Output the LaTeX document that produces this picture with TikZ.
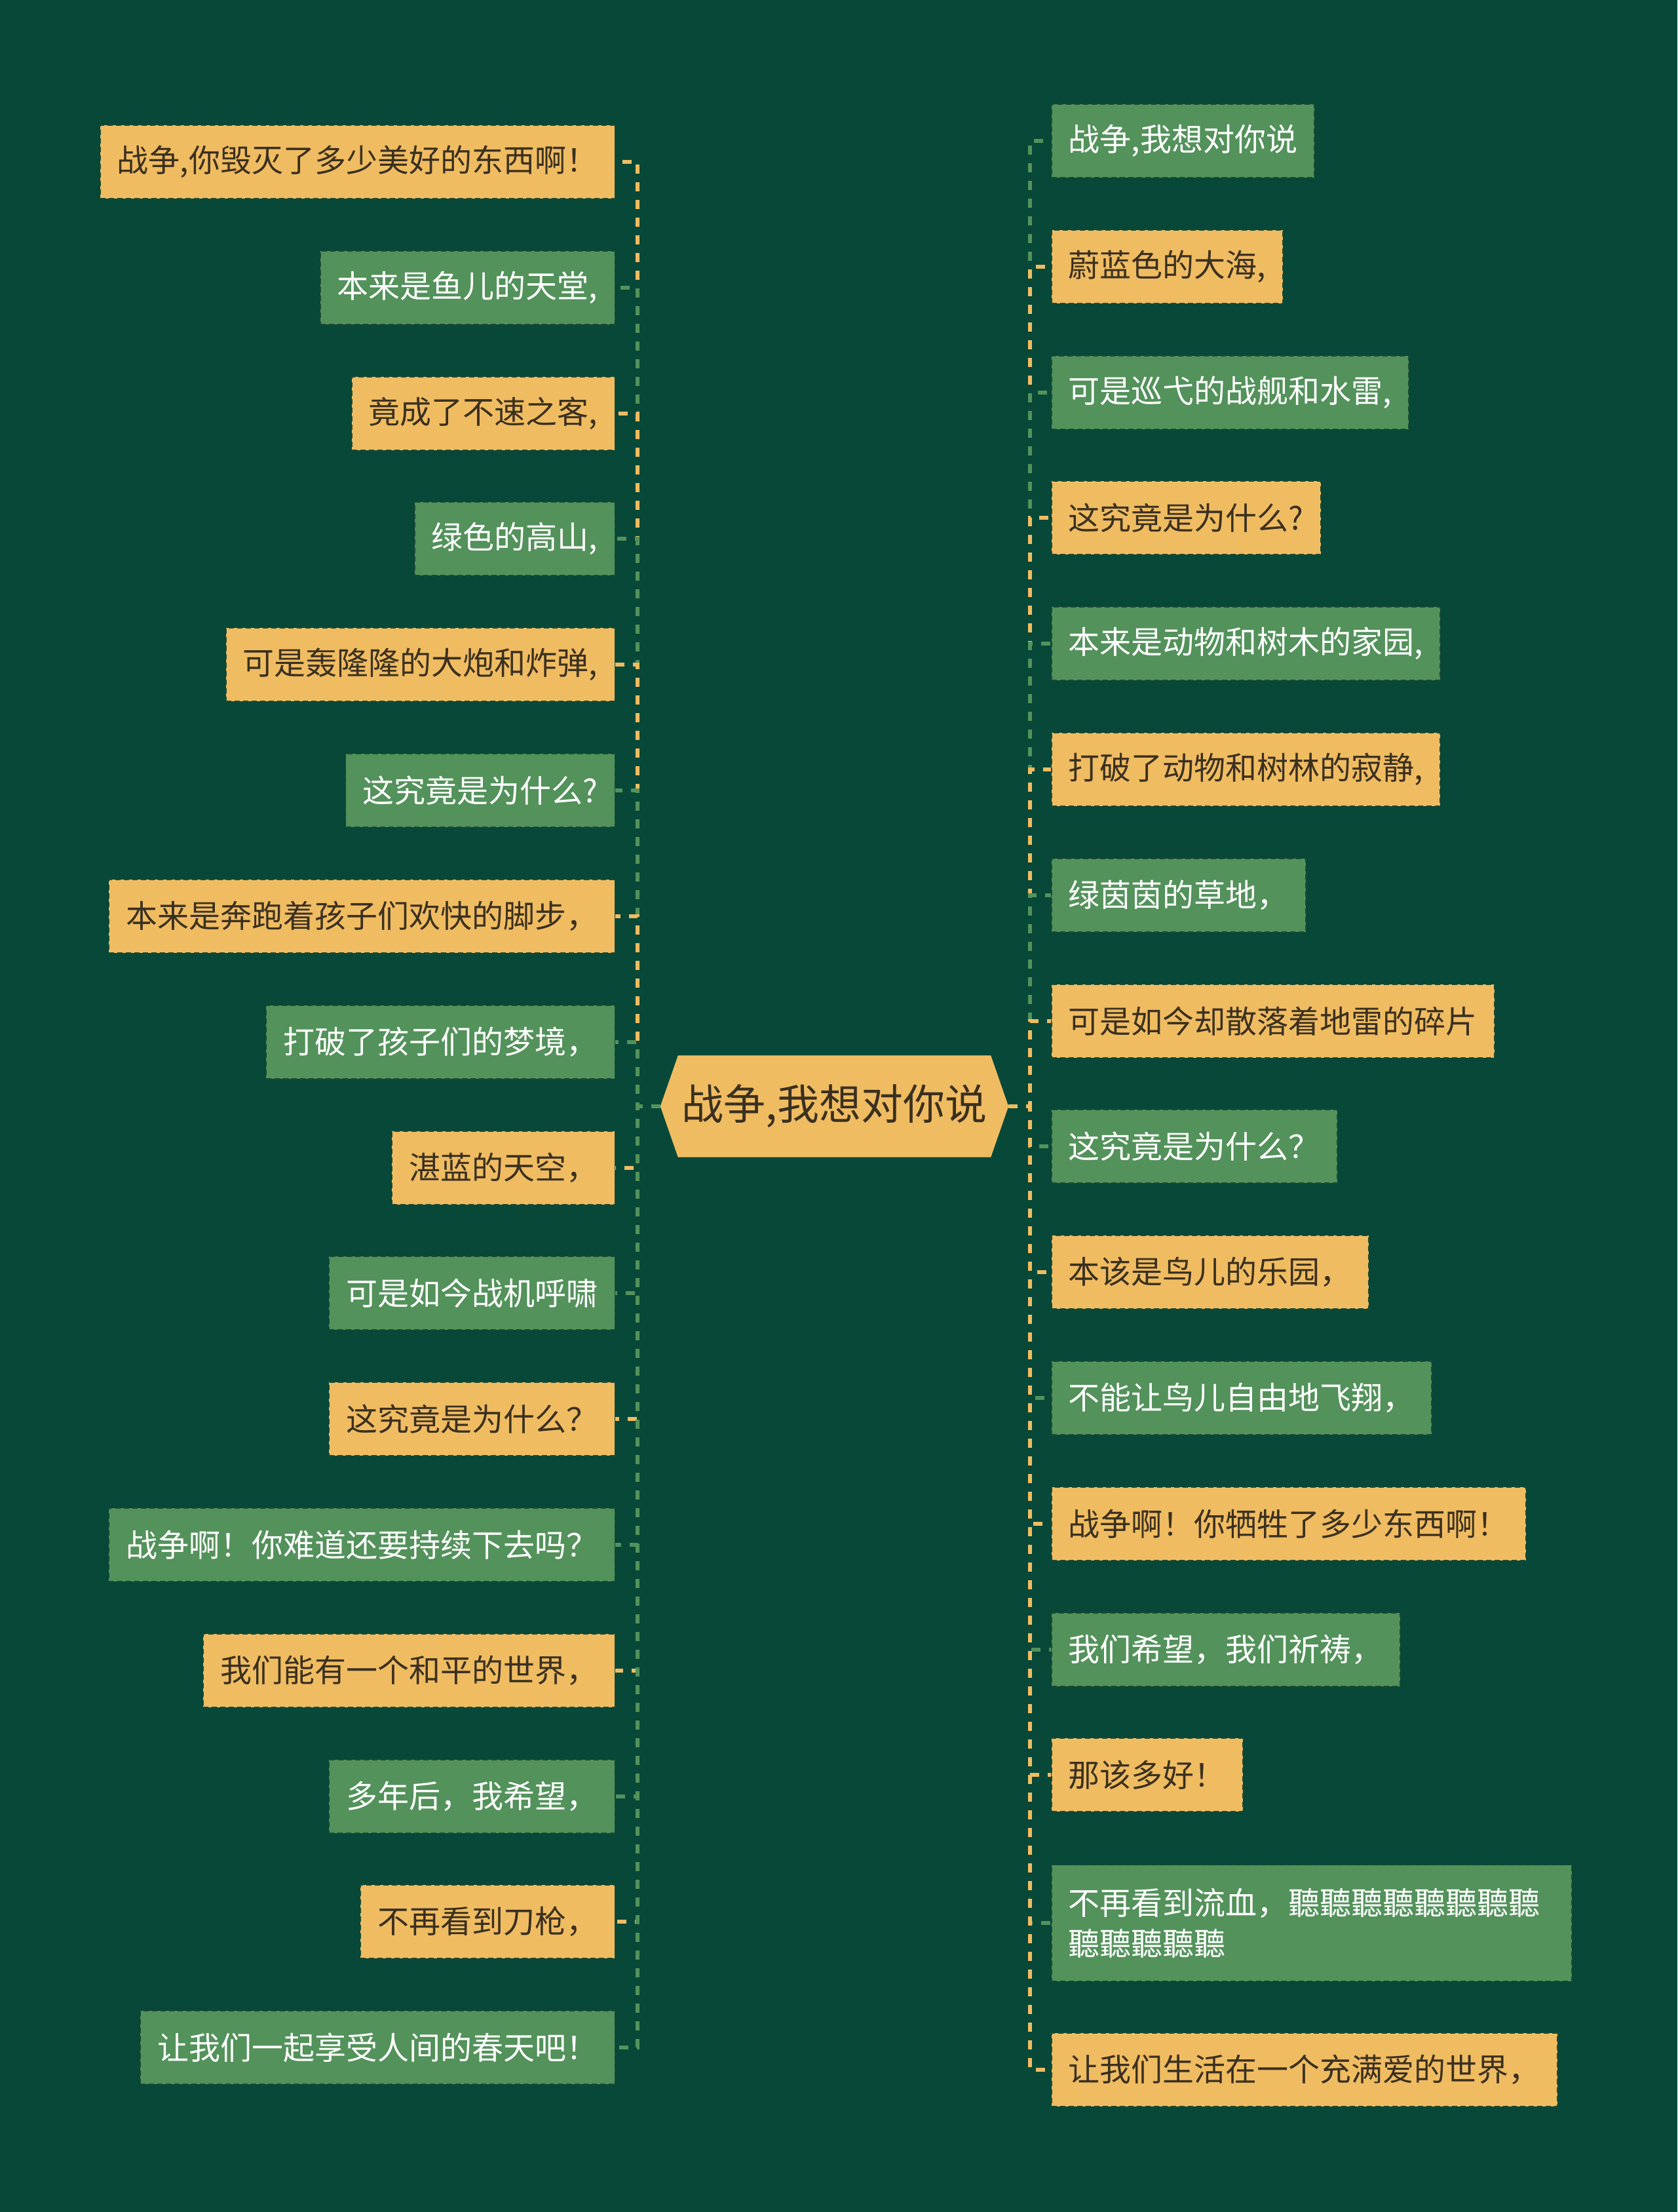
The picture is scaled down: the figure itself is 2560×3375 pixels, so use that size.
\documentclass[tikz,border=0pt]{standalone}
\usepackage{fontspec}
\newfontfamily\cjk{Noto Sans CJK SC}
\usetikzlibrary{backgrounds}
\definecolor{bg}{HTML}{074838}
\definecolor{nodeO}{HTML}{F0BC62}
\definecolor{nodeG}{HTML}{53925B}
\definecolor{textD}{HTML}{3A3020}
\definecolor{border}{HTML}{1F4A33}
\tikzset{
  box/.style={font=\cjk\fontsize{48}{62}\selectfont, inner xsep=26pt, inner ysep=0pt,
    minimum height=112pt, draw=border, line width=1.5pt, dash pattern=on 8pt off 5pt},
  ob/.style={box, fill=nodeO, text=textD},
  gb/.style={box, fill=nodeG, text=white},
  lo/.style={ob, anchor=east},
  lg/.style={gb, anchor=east},
  ro/.style={ob, anchor=west},
  rg/.style={gb, anchor=west},
  conn/.style={line width=5.5pt, dash pattern=on 14pt off 13pt},
  co/.style={conn, draw=nodeO},
  cg/.style={conn, draw=nodeG},
  hub/.style={font=\cjk\fontsize{64}{70}\selectfont, text=textD, minimum width=531pt,
    minimum height=155pt, inner sep=0pt}
}
\begin{document}
\begin{tikzpicture}[x=1pt,y=-1pt]
\useasboundingbox (0,0) rectangle (2560,3375);
\begin{scope}[on background layer]
\fill[bg] (0,0) rectangle (2560,3375);
\end{scope}

\node[hub] (c) at (1273.5,1688) {战争,我想对你说};
\begin{scope}[on background layer]
\fill[nodeO] (c.west) -- ([xshift=27pt]c.north west) -- ([xshift=-27pt]c.north east) -- (c.east)
  -- ([xshift=-27pt]c.south east) -- ([xshift=27pt]c.south west) -- cycle;
\end{scope}

\coordinate (tl) at (973,1688);
\coordinate (tr) at (1572,1688);

% left nodes
\node[lo] (L1) at (939,247) {战争,你毁灭了多少美好的东西啊！};
\node[lg] (L2) at (939,439) {本来是鱼儿的天堂,};
\node[lo] (L3) at (939,631) {竟成了不速之客,};
\node[lg] (L4) at (939,822) {绿色的高山,};
\node[lo] (L5) at (939,1014) {可是轰隆隆的大炮和炸弹,};
\node[lg] (L6) at (939,1206) {这究竟是为什么?};
\node[lo] (L7) at (939,1398) {本来是奔跑着孩子们欢快的脚步，};
\node[lg] (L8) at (939,1590) {打破了孩子们的梦境，};
\node[lo] (L9) at (939,1782) {湛蓝的天空，};
\node[lg] (L10) at (939,1973) {可是如今战机呼啸};
\node[lo] (L11) at (939,2165) {这究竟是为什么？};
\node[lg] (L12) at (939,2357) {战争啊！你难道还要持续下去吗？};
\node[lo] (L13) at (939,2549) {我们能有一个和平的世界，};
\node[lg] (L14) at (939,2741) {多年后，我希望，};
\node[lo] (L15) at (939,2932) {不再看到刀枪，};
\node[lg] (L16) at (939,3124) {让我们一起享受人间的春天吧！};

% right nodes
\node[rg] (R1) at (1604,215) {战争,我想对你说};
\node[ro] (R2) at (1604,407) {蔚蓝色的大海,};
\node[rg] (R3) at (1604,599) {可是巡弋的战舰和水雷,};
\node[ro] (R4) at (1604,790) {这究竟是为什么?};
\node[rg] (R5) at (1604,982) {本来是动物和树木的家园,};
\node[ro] (R6) at (1604,1174) {打破了动物和树林的寂静,};
\node[rg] (R7) at (1604,1366) {绿茵茵的草地，};
\node[ro] (R8) at (1604,1558) {可是如今却散落着地雷的碎片};
\node[rg] (R9) at (1604,1749) {这究竟是为什么？};
\node[ro] (R10) at (1604,1941) {本该是鸟儿的乐园，};
\node[rg] (R11) at (1604,2133) {不能让鸟儿自由地飞翔，};
\node[ro] (R12) at (1604,2325) {战争啊！你牺牲了多少东西啊！};
\node[rg] (R13) at (1604,2517) {我们希望，我们祈祷，};
\node[ro] (R14) at (1604,2708) {那该多好！};
\node[rg, text width=742pt, align=left, minimum height=177pt] (R15) at (1604,2934) {不再看到流血，聽聽聽聽聽聽聽聽\\聽聽聽聽聽};
\node[ro] (R16) at (1604,3158) {让我们生活在一个充满爱的世界，};

\begin{scope}[on background layer]
\draw[co] (c.west) -- (c.west -| tl) |- (L1.east);
\draw[cg] (c.west) -- (c.west -| tl) |- (L2.east);
\draw[co] (c.west) -- (c.west -| tl) |- (L3.east);
\draw[cg] (c.west) -- (c.west -| tl) |- (L4.east);
\draw[co] (c.west) -- (c.west -| tl) |- (L5.east);
\draw[cg] (c.west) -- (c.west -| tl) |- (L6.east);
\draw[co] (c.west) -- (c.west -| tl) |- (L7.east);
\draw[cg] (c.west) -- (c.west -| tl) |- (L8.east);
\draw[co] (c.west) -- (c.west -| tl) |- (L9.east);
\draw[cg] (c.west) -- (c.west -| tl) |- (L10.east);
\draw[co] (c.west) -- (c.west -| tl) |- (L11.east);
\draw[cg] (c.west) -- (c.west -| tl) |- (L12.east);
\draw[co] (c.west) -- (c.west -| tl) |- (L13.east);
\draw[cg] (c.west) -- (c.west -| tl) |- (L14.east);
\draw[co] (c.west) -- (c.west -| tl) |- (L15.east);
\draw[cg] (c.west) -- (c.west -| tl) |- (L16.east);

\draw[cg] (c.east) -- (c.east -| tr) |- (R1.west);
\draw[co] (c.east) -- (c.east -| tr) |- (R2.west);
\draw[cg] (c.east) -- (c.east -| tr) |- (R3.west);
\draw[co] (c.east) -- (c.east -| tr) |- (R4.west);
\draw[cg] (c.east) -- (c.east -| tr) |- (R5.west);
\draw[co] (c.east) -- (c.east -| tr) |- (R6.west);
\draw[cg] (c.east) -- (c.east -| tr) |- (R7.west);
\draw[co] (c.east) -- (c.east -| tr) |- (R8.west);
\draw[cg] (c.east) -- (c.east -| tr) |- (R9.west);
\draw[co] (c.east) -- (c.east -| tr) |- (R10.west);
\draw[cg] (c.east) -- (c.east -| tr) |- (R11.west);
\draw[co] (c.east) -- (c.east -| tr) |- (R12.west);
\draw[cg] (c.east) -- (c.east -| tr) |- (R13.west);
\draw[co] (c.east) -- (c.east -| tr) |- (R14.west);
\draw[cg] (c.east) -- (c.east -| tr) |- (R15.west);
\draw[co] (c.east) -- (c.east -| tr) |- (R16.west);
\end{scope}
\end{tikzpicture}
\end{document}
